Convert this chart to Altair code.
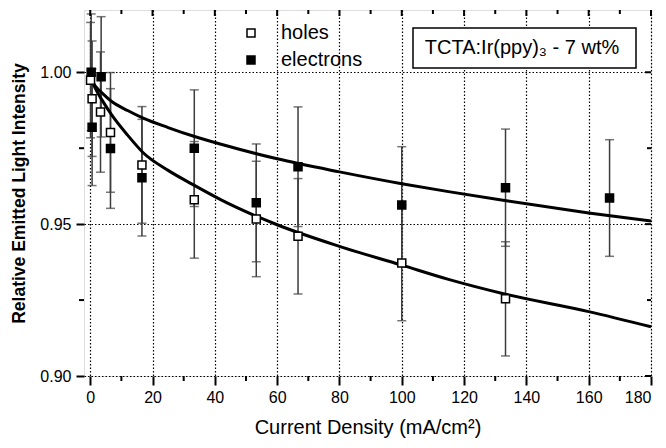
import altair as alt
import pandas as pd

# ---------------- data ----------------
holes_x = [0.1, 0.6, 3.3, 6.5, 16.6, 33.4, 53.3, 66.7, 100.0, 133.3]
holes_y = [0.9974, 0.9913, 0.9869, 0.9802, 0.9695, 0.9580, 0.9517, 0.9460, 0.9372, 0.9254]
holes_err = [0.0190, 0.0190, 0.0198, 0.0197, 0.0192, 0.0192, 0.0190, 0.0190, 0.0190, 0.0188]

electrons_x = [0.3, 0.6, 3.5, 6.5, 16.6, 33.4, 53.3, 66.7, 100.0, 133.3, 166.7]
electrons_y = [1.0000, 0.9819, 0.9985, 0.9749, 0.9653, 0.9750, 0.9570, 0.9689, 0.9563, 0.9620, 0.9586]
electrons_err = [0.0192, 0.0192, 0.0198, 0.0197, 0.0192, 0.0192, 0.0194, 0.0197, 0.0192, 0.0193, 0.0192]

fit_x = [0, 1, 2, 4, 7, 12, 17, 25, 33, 42, 60, 80, 100, 115, 133, 160, 180]
fit_electrons = [1.000, 0.9965, 0.9950, 0.9930, 0.9903, 0.9874, 0.9849, 0.9818, 0.9790,
                 0.9763, 0.9715, 0.9672, 0.9633, 0.9607, 0.9578, 0.9537, 0.9510]
fit_holes = [1.000, 0.9962, 0.9940, 0.9905, 0.9858, 0.9793, 0.9735, 0.9677, 0.9630,
             0.9580, 0.9498, 0.9427, 0.9365, 0.9318, 0.9270, 0.9212, 0.9162]

x_major = [0, 20, 40, 60, 80, 100, 120, 140, 160, 180]
x_minor = [10, 30, 50, 70, 90, 110, 130, 150, 170]
y_major = [0.90, 0.95, 1.00]
y_minor = [0.925, 0.975]

series_names = ["holes", "electrons"]
annotation = "TCTA:Ir(ppy)\u2083 - 7 wt%"
x_title = "Current Density (mA/cm\u00b2)"
y_title = "Relative Emitted Light Intensity"

# ---------------- tables ----------------
pts = pd.DataFrame({
    "x": holes_x + electrons_x,
    "y": holes_y + electrons_y,
    "err": holes_err + electrons_err,
    "series": ["holes"] * len(holes_x) + ["electrons"] * len(electrons_x),
})
pts["lo"] = pts["y"] - pts["err"]
pts["hi"] = pts["y"] + pts["err"]

fits = pd.DataFrame({
    "x": fit_x + fit_x,
    "y": fit_holes + fit_electrons,
    "series": ["holes"] * len(fit_x) + ["electrons"] * len(fit_x),
})

W, H = 567, 366
FONT = "Liberation Sans"

xs = alt.Scale(domain=[-2, 180], nice=False, zero=False)
ys = alt.Scale(domain=[0.90, 1.0205], nice=False, zero=False)

x_axis = alt.Axis(values=x_major, tickSize=9, tickWidth=2, tickColor="black",
                  labelFontSize=16, labelFont=FONT, labelColor="black", labelPadding=4,
                  titleFontSize=20, titleFont=FONT, titleFontWeight="normal",
                  titleColor="black", titlePadding=12, domain=False,
                  grid=True, gridDash=[1.5, 2], gridColor="black", gridWidth=1.2,
                  gridOpacity=1)
y_axis = alt.Axis(values=y_major, format=".2f", tickSize=8, tickWidth=2,
                  tickColor="black", labelFontSize=16, labelFont=FONT,
                  labelColor="black", labelPadding=5,
                  titleFontSize=17.5, titleFont=FONT, titleFontWeight="bold",
                  titleColor="black", titlePadding=11, domain=False,
                  grid=True, gridDash=[1.5, 2], gridColor="black", gridWidth=1.2,
                  gridOpacity=1)


def X(field):
    return alt.X(field, type="quantitative", scale=xs, axis=x_axis, title=x_title)


def Y(field):
    return alt.Y(field, type="quantitative", scale=ys, axis=y_axis, title=y_title)


# minor / mirror ticks
xmaj_df = pd.DataFrame({"x": x_major})
xmin_df = pd.DataFrame({"x": x_minor})
ymaj_df = pd.DataFrame({"y": y_major})
ymin_df = pd.DataFrame({"y": y_minor})

tick_style = dict(color="black", strokeWidth=2)
top_major = alt.Chart(xmaj_df).mark_rule(**tick_style).encode(
    x=X("x"), y=alt.value(0), y2=alt.value(6))
top_minor = alt.Chart(xmin_df).mark_rule(**tick_style).encode(
    x=X("x"), y=alt.value(0), y2=alt.value(4))
bot_minor = alt.Chart(xmin_df).mark_rule(**tick_style).encode(
    x=X("x"), y=alt.value(H), y2=alt.value(H + 5))
right_major = alt.Chart(ymaj_df).mark_rule(**tick_style).encode(
    y=Y("y"), x=alt.value(W - 6), x2=alt.value(W))
right_minor = alt.Chart(ymin_df).mark_rule(**tick_style).encode(
    y=Y("y"), x=alt.value(W - 4), x2=alt.value(W))
left_minor = alt.Chart(ymin_df).mark_rule(**tick_style).encode(
    y=Y("y"), x=alt.value(-5), x2=alt.value(0))

# error bars
err_color = "#3c3c3c"
err_rule = alt.Chart(pts).mark_rule(color=err_color, strokeWidth=1.5).encode(
    x=X("x"), y=Y("lo"), y2="hi:Q")
cap_lo = alt.Chart(pts).mark_tick(color=err_color, thickness=1.5, size=9,
                                  orient="horizontal").encode(x=X("x"), y=Y("lo"))
cap_hi = alt.Chart(pts).mark_tick(color=err_color, thickness=1.5, size=9,
                                  orient="horizontal").encode(x=X("x"), y=Y("hi"))

# fitted curves
curves = alt.Chart(fits).mark_line(color="black", strokeWidth=3,
                                   interpolate="monotone").encode(
    x=X("x"), y=Y("y"), detail="series:N")

# points
points = alt.Chart(pts).mark_square(size=64, stroke="black", strokeWidth=1.5,
                                    opacity=1, filled=True).encode(
    x=X("x"), y=Y("y"),
    fill=alt.Fill("series:N",
                  scale=alt.Scale(domain=series_names, range=["white", "black"]),
                  legend=alt.Legend(title=None, orient="none", legendX=157, legendY=13,
                                    symbolType="square", symbolSize=64,
                                    symbolStrokeColor="black", symbolStrokeWidth=1.5,
                                    labelFontSize=20, labelFont=FONT, labelColor="black",
                                    labelOffset=20, rowPadding=7, padding=0)),
)

# annotation box
ann_df = pd.DataFrame({"label": [annotation]})
box = alt.Chart(ann_df).mark_rect(fill="white", stroke="black", strokeWidth=1.5).encode(
    x=alt.value(329), x2=alt.value(552), y=alt.value(18), y2=alt.value(58))
ann_text = alt.Chart(ann_df).mark_text(fontSize=20, font=FONT, color="black",
                                       align="center", baseline="middle").encode(
    x=alt.value(438), y=alt.value(38), text="label:N")

chart = alt.layer(
    err_rule, cap_lo, cap_hi, curves, points,
    top_major, top_minor, bot_minor, right_major, right_minor, left_minor,
    box, ann_text,
).properties(
    width=W, height=H,
    autosize=alt.AutoSizeParams(type="none"),
    padding={"left": 76, "top": 2, "right": 7, "bottom": 62},
).configure_view(stroke="black", strokeWidth=2).configure(background="white")

chart.save("out.html", embed_options={"renderer": "svg", "actions": False})
